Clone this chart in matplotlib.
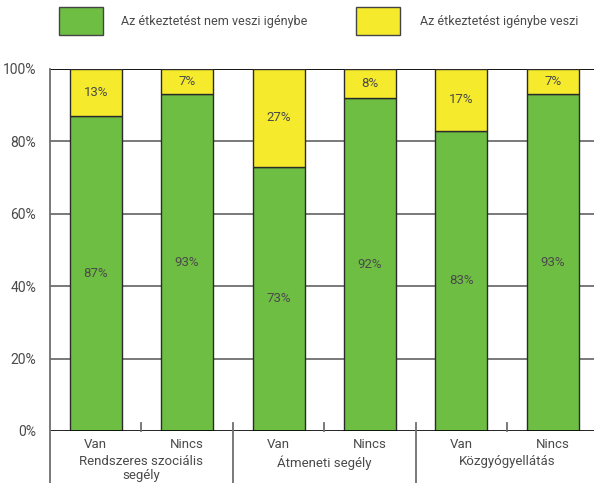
import numpy as np
import matplotlib
matplotlib.use('Agg')
import matplotlib.pyplot as plt
import matplotlib.transforms as mtransforms

groups = ['Rendszeres szociális\nsegély', 'Átmeneti segély', 'Közgyógyellátás']
subcats = ['Van', 'Nincs', 'Van', 'Nincs', 'Van', 'Nincs']
nem_veszi = [87, 93, 73, 92, 83, 93]
igenybe_veszi = [13, 7, 27, 8, 17, 7]
labels = ['Az étkeztetést nem veszi igénybe', 'Az étkeztetést igénybe veszi']

green = '#6fbe44'
yellow = '#f5eb2c'
txt = '#4a4a4a'

plt.rcParams['font.family'] = ['Roboto', 'DejaVu Sans']

fig = plt.figure(figsize=(5.94, 4.83), dpi=100)
ax = fig.add_axes([50 / 594, 52 / 483, 544 / 594, 362 / 483])

x = np.arange(len(subcats))
w = 0.57
ax.bar(x, nem_veszi, w, color=green, edgecolor='#2a2a2a', linewidth=1, zorder=3)
ax.bar(x, igenybe_veszi, w, bottom=nem_veszi, color=yellow, edgecolor='#2a2a2a',
       linewidth=1, zorder=3)

for xi, a, b in zip(x, nem_veszi, igenybe_veszi):
    ax.text(xi, a / 2, '%d%%' % a, ha='center', va='center', fontsize=9.5, color=txt, zorder=4)
    ax.text(xi, a + b / 2, '%d%%' % b, ha='center', va='center', fontsize=9.5, color=txt, zorder=4)

ax.set_xlim(-0.5, 5.45)
ax.set_ylim(0, 100)

# horizontal grid
for v in [20, 40, 60, 80]:
    ax.axhline(v, color='#6e6e6e', linewidth=1.3, zorder=1)
ax.axhline(100, color='black', linewidth=1.3, zorder=1)

for s in ['top', 'right', 'bottom', 'left']:
    ax.spines[s].set_visible(False)
ax.axhline(0, color='black', linewidth=1.2, zorder=5)

ax.set_yticks([0, 20, 40, 60, 80, 100])
ax.set_yticklabels(['%d%%' % v for v in [0, 20, 40, 60, 80, 100]], fontsize=10, color=txt)
ax.tick_params(axis='y', length=0, pad=10)
ax.set_xticks([])

trans = mtransforms.blended_transform_factory(ax.transData, ax.transAxes)
bot = -52 / 362
tk = 8 / 362
# left axis running down past the category labels
ax.plot([-0.5, -0.5], [bot, 1], transform=trans, color='#6e6e6e', linewidth=1.3,
        clip_on=False, zorder=5)
for xs in [0.5, 2.5, 4.5]:
    ax.plot([xs, xs], [0, tk], transform=trans, color='#6e6e6e', linewidth=1.3,
            clip_on=False, zorder=5)
for xs in [1.5, 3.5]:
    ax.plot([xs, xs], [bot, tk], transform=trans, color='#6e6e6e', linewidth=1.3,
            clip_on=False, zorder=5)

for xi, s in zip(x, subcats):
    ax.text(xi, -13 / 362, s, transform=trans, ha='center', va='center', fontsize=9.5, color=txt)
for gi, g in enumerate(groups):
    ax.text(2 * gi + 0.5, -24 / 362, g, transform=trans, ha='center', va='top', fontsize=9.5,
            color=txt, linespacing=1.05)

# legend boxes
fig.patches.append(plt.Rectangle((59 / 594, 1 - 35 / 483), 44 / 594, 28 / 483,
                                 transform=fig.transFigure, facecolor=green,
                                 edgecolor='#444444', linewidth=1))
fig.patches.append(plt.Rectangle((356 / 594, 1 - 35 / 483), 44 / 594, 28 / 483,
                                 transform=fig.transFigure, facecolor=yellow,
                                 edgecolor='#444444', linewidth=1))
fig.text(121 / 594, 1 - 21 / 483, labels[0], ha='left', va='center', fontsize=9, color=txt)
fig.text(420 / 594, 1 - 21 / 483, labels[1], ha='left', va='center', fontsize=9, color=txt)

fig.savefig('out.png', dpi=100)
